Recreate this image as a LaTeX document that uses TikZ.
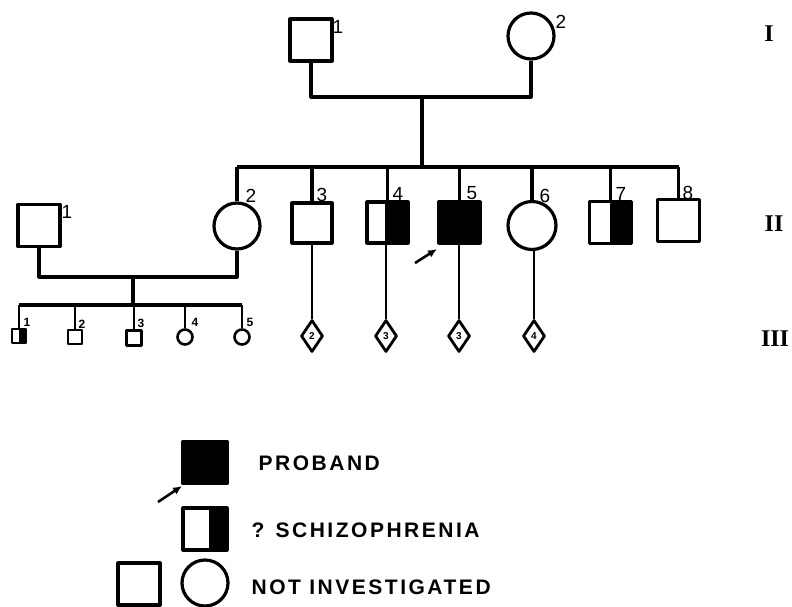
\documentclass[tikz,border=0pt]{standalone}
\usepackage{fontspec}
\setmainfont{Liberation Sans}
\newfontfamily\lett[LetterSpace=12]{Liberation Sans}
\newfontfamily\romanf{Liberation Serif}
\usetikzlibrary{shapes.geometric,calc,arrows.meta}
\begin{document}
\begin{tikzpicture}[x=1pt,y=-1pt,
  every path/.style={line width=3.2pt,line join=round},
  male/.style={draw,rectangle,line width=3.2pt,inner sep=0pt,minimum width=#1,minimum height=#1},
  male/.default=42pt,
  female/.style={draw,circle,line width=3.2pt,inner sep=0pt,minimum size=#1},
  female/.default=46pt,
  unk/.style={draw,diamond,line width=2.8pt,inner sep=0pt,minimum width=22pt,minimum height=32pt,font=\bfseries\fontsize{10}{10}\selectfont},
  aff/.style={fill=black},
  half/.style={path picture={\fill[black] ($(path picture bounding box.south west)!#1!(path picture bounding box.south east)$) rectangle (path picture bounding box.north east);}},
  num/.style={font=\fontsize{19}{19}\selectfont,inner sep=0pt},
  snum/.style={font=\bfseries\fontsize{12}{12}\selectfont,inner sep=0pt},
  gen/.style={font=\romanf\bfseries\fontsize{24}{24}\selectfont,inner sep=0pt},
  leg/.style={font=\lett\bfseries\fontsize{21}{21}\selectfont,inner sep=0pt,anchor=west},
  pointer/.style={-{Latex[length=9pt,width=8pt]},line width=2.6pt}
]
\useasboundingbox (0,0) rectangle (792,606);

% Generation I
\node[male] (i1) at (311,40) {};
\node[female] (i2) at (531,36) {};
\node[num] (li1) at (338,27) {1};
\node[num] (li2) at (561,22) {2};
\coordinate (m1) at (422,97);
\draw (i1.south) |- (m1) -| (i2.south);
\coordinate (s1) at (422,167);
\draw (m1) -- (s1);

% Generation II
\node[female] (ii2) at (237,226) {};
\node[male=40pt] (ii3) at (312,223) {};
\node[male=41pt,half=0.44] (ii4) at (387.5,222.5) {};
\node[male,aff] (ii5) at (459.5,222.5) {};
\node[female=48pt] (ii6) at (532,225.5) {};
\node[male,half=0.49] (ii7) at (610.5,222.5) {};
\node[male] (ii8) at (678.5,220.5) {};
\node[male] (ii1) at (39,225.5) {};

\coordinate (sl) at (237,167);
\coordinate (sr) at (678.5,167);
\draw (sl) -- (sr);
\foreach \n in {ii2,ii3,ii4,ii5,ii6,ii7,ii8}{
  \draw (\n.north) -- (\n.north |- sl);
}
\node[num] (lii1) at (67,212) {1};
\node[num] (lii2) at (251,196) {2};
\node[num] (lii3) at (322,195) {3};
\node[num] (lii4) at (398,194) {4};
\node[num] (lii5) at (472,193) {5};
\node[num] (lii6) at (545,196) {6};
\node[num] (lii7) at (621,194) {7};
\node[num] (lii8) at (688,193) {8};

% proband arrow
\coordinate (pa) at (415,263);
\coordinate (pb) at (437,249);
\draw[pointer] (pa) -- (pb);

% marriage II
\coordinate (m2) at (133,277);
\draw (ii1.south) |- (m2) -| (ii2.south);
\coordinate (s2) at (133,305);
\draw (m2) -- (s2);

% Generation III
\node[male=14pt,line width=2.6pt,half=0.5] (c1) at (19,336) {};
\node[male=14pt,line width=2.6pt] (c2) at (75,337) {};
\node[male=15pt,line width=2.6pt] (c3) at (134,338) {};
\node[female=15pt,line width=2.6pt] (c4) at (185,337) {};
\node[female=15pt,line width=2.6pt] (c5) at (242,337) {};
\coordinate (tl) at (19,305);
\coordinate (tr) at (242,305);
\draw (tl) -- (tr);
\foreach \n in {c1,c2,c3,c4,c5}{
  \draw[line width=2.6pt] (\n.north) -- (\n.north |- tl);
}
\node[snum] (lc1) at (27,322) {1};
\node[snum] (lc2) at (82,324) {2};
\node[snum] (lc3) at (141,323) {3};
\node[snum] (lc4) at (195,322) {4};
\node[snum] (lc5) at (250,322) {5};

\node[unk] (d1) at (312,336) {2};
\node[unk] (d2) at (386,336) {3};
\node[unk] (d3) at (459,336) {3};
\node[unk] (d4) at (534,336) {4};
\draw[line width=2.8pt] (ii3.south) -- (d1.north);
\draw[line width=2.8pt] (ii4.south -| d2.north) -- (d2.north);
\draw[line width=2.8pt] (ii5.south -| d3.north) -- (d3.north);
\draw[line width=2.8pt] (ii6.south -| d4.north) -- (d4.north);

% generation labels
\node[gen] (g1) at (769,34) {I};
\node[gen] (g2) at (774,224) {II};
\node[gen] (g3) at (775,339) {III};

% legend
\node[male=42pt,minimum width=44pt,aff] (lp) at (205,462.5) {};
\coordinate (la) at (158,502);
\coordinate (lb) at (182,486);
\draw[pointer] (la) -- (lb);
\node[leg] (tp) at (257,463) {PROBAND};
\node[male=42pt,minimum width=44pt,half=0.6] (lh) at (205,529) {};
\node[leg] (th) at (250,530) {? SCHIZOPHRENIA};
\node[male=42pt] (lm) at (139,584) {};
\node[female] (lf) at (205,583) {};
\node[leg] (tn) at (250,587) {NOT INVESTIGATED};
\end{tikzpicture}
\end{document}
